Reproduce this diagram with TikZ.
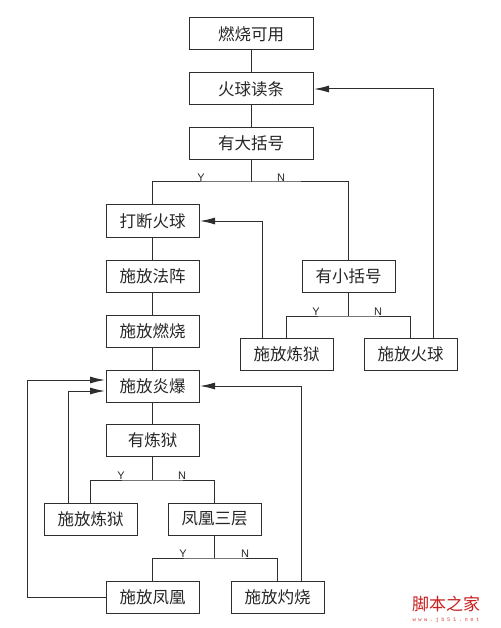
\documentclass[tikz,border=0pt]{standalone}
\usepackage{fontspec}
\setmainfont{Liberation Sans}
\newfontfamily\cjk{Noto Sans CJK SC}
\newfontfamily\wmfont[LetterSpace=45]{Liberation Mono}
\usepackage{tikz}
\usetikzlibrary{arrows.meta}
\definecolor{Linie}{HTML}{2E2E2E}
\definecolor{Wasser}{HTML}{C81E1E}
\tikzset{
  Kasten/.style={draw=Linie, line width=1pt, minimum width=#1, minimum height=32pt,
    inner sep=0pt, font=\cjk\fontsize{16.5}{18}\selectfont, text=black!85}, % Kästen
  Kasten/.default=93pt,
  Linie/.style={draw=Linie, line width=1pt}, % Verbindungen
  Pfeil/.style={Linie, -{Latex[length=15pt,width=7pt]}, shorten >=0.5pt}, % Rückpfeile
  JN/.style={above, inner sep=0.6pt, font=\fontsize{11}{11}\selectfont, text=black!85} % Y/N
}

\begin{document}
\begin{tikzpicture}[x=1pt, y=-1pt]
\useasboundingbox (0,0) rectangle (500,628);

%Knoten
\node[Kasten=124pt] (ran)  at (251,34)      {燃烧可用};
\node[Kasten=124pt] (hqd)  at (251,89)      {火球读条};
\node[Kasten=124pt] (dkh)  at (251,143.5)   {有大括号};
\node[Kasten] (dhq)  at (152.5,221)   {打断火球};
\node[Kasten] (ffz)  at (152.5,276)   {施放法阵};
\node[Kasten] (frs)  at (152.5,331)   {施放燃烧};
\node[Kasten] (fyb)  at (152.5,386)   {施放炎爆};
\node[Kasten] (xkh)  at (348.5,276)   {有小括号};
\node[Kasten] (flyR) at (286.5,354.5) {施放炼狱};
\node[Kasten] (fhq)  at (410.5,354.5) {施放火球};
\node[Kasten] (ylY)  at (152.5,440.5) {有炼狱};
\node[Kasten] (flyL) at (90.5,519)    {施放炼狱};
\node[Kasten] (fh3)  at (214.5,519)   {凤凰三层};
\node[Kasten] (ffh)  at (152.5,597.5) {施放凤凰};
\node[Kasten] (fzs)  at (277.5,597.5) {施放灼烧};

%Verzweigungspunkte
\coordinate (v1) at (251,182);
\coordinate (v2) at (348.5,316);
\coordinate (v3) at (152.5,480);
\coordinate (v4) at (214.5,558);

%Verbindungen
\draw[Linie] (ran) -- (hqd);
\draw[Linie] (hqd) -- (dkh);
\draw[Linie] (dhq) -- (ffz);
\draw[Linie] (ffz) -- (frs);
\draw[Linie] (frs) -- (fyb);
\draw[Linie] (fyb) -- (ylY);

%Verzweigungen
\draw[Linie] (dkh) -- (v1);
\draw[Linie] (dhq.north) |- (v1) -| (xkh.north);
\node[JN] (y1) at (201,182) {Y};
\node[JN] (n1) at (281,182) {N};

\draw[Linie] (xkh) -- (v2);
\draw[Linie] (flyR.north) |- (v2) -| (fhq.north);
\node[JN] (y2) at (316,316) {Y};
\node[JN] (n2) at (378,316) {N};

\draw[Linie] (ylY) -- (v3);
\draw[Linie] (flyL.north) |- (v3) -| (fh3.north);
\node[JN] (y3) at (121,480) {Y};
\node[JN] (n3) at (182,480) {N};

\draw[Linie] (fh3) -- (v4);
\draw[Linie] (ffh.north) |- (v4) -| (fzs.north);
\node[JN] (y4) at (183,558) {Y};
\node[JN] (n4) at (245,558) {N};

%Rückpfeile
\draw[Pfeil] ([xshift=22.5pt]fhq.north) |- (hqd.east);
\draw[Pfeil] ([xshift=-24.5pt]flyR.north) |- (dhq.east);
\draw[Pfeil] ([xshift=-22.5pt]flyL.north) |- ([yshift=-5pt]fyb.west);
\draw[Pfeil] (ffh.west) -- ++(-78,0) |- ([yshift=6pt]fyb.west);
\draw[Pfeil] ([xshift=23.5pt]fzs.north) |- (fyb.east);

%Wasserzeichen
\node[text=Wasser, font=\cjk\fontsize{17}{17}\selectfont, inner sep=0pt] (wz) at (446,604) {脚本之家};
\node[text=Wasser!80, font=\wmfont\fontsize{5.5}{6}\selectfont, inner sep=0pt] (url) at (446,620) {www.jb51.net};
\end{tikzpicture}
\end{document}
